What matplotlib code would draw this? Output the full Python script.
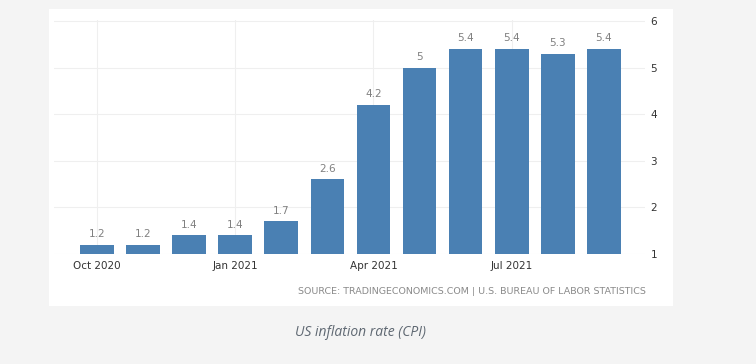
import numpy as np
import matplotlib.pyplot as plt
from matplotlib.patches import Rectangle

# US CPI inflation, Oct 2020 - Sep 2021
months = ['Oct 2020', 'Nov 2020', 'Dec 2020', 'Jan 2021', 'Feb 2021', 'Mar 2021',
          'Apr 2021', 'May 2021', 'Jun 2021', 'Jul 2021', 'Aug 2021', 'Sep 2021']
rates = [1.2, 1.2, 1.4, 1.4, 1.7, 2.6, 4.2, 5.0, 5.4, 5.4, 5.3, 5.4]
tick_months = ['Oct 2020', 'Jan 2021', 'Apr 2021', 'Jul 2021']
y_ticks = [1, 2, 3, 4, 5, 6]

W, H = 756, 364
fig = plt.figure(figsize=(W / 100, H / 100), dpi=100)
fig.patch.set_facecolor('#f4f4f4')

# white card behind the chart
fig.patches.append(Rectangle((49 / W, 1 - 306 / H), (673 - 49) / W, (306 - 9) / H,
                             transform=fig.transFigure, facecolor='white',
                             edgecolor='none', zorder=0))

ymax = 6.02
px_per_unit = (254 - 21) / 5
top_px = 254 - (ymax - 1) * px_per_unit
ax = fig.add_axes([54 / W, 1 - 254 / H, (645 - 54) / W, (254 - top_px) / H])
ax.set_facecolor('none')
ax.set_zorder(2)

x = np.arange(len(months))
bars = ax.bar(x, rates, width=0.73, color='#4a80b3', zorder=3)
for xi, v in zip(x, rates):
    ax.annotate(f'{v:g}', (xi, v), xytext=(0, 4), textcoords='offset points',
                ha='center', va='bottom', fontsize=7.5, color='#808080')

ax.set_xlim(-0.93, 11.89)
ax.set_ylim(1, ymax)
ax.set_xticks([months.index(m) for m in tick_months])
ax.set_xticklabels(tick_months)
ax.set_yticks(y_ticks)
ax.yaxis.tick_right()
ax.tick_params(axis='x', length=0, labelsize=7.5, labelcolor='#333333', pad=5)
ax.tick_params(axis='y', length=0, labelsize=7.5, labelcolor='#333333', pad=4)
ax.grid(True, color='#efefef', linewidth=0.8, zorder=0)
for s in ax.spines.values():
    s.set_visible(False)

fig.text(646 / W, 1 - 292 / H,
         'SOURCE: TRADINGECONOMICS.COM | U.S. BUREAU OF LABOR STATISTICS',
         ha='right', va='center', fontsize=6.8, color='#8a8a8a')
fig.text(295 / W, 1 - 333 / H, 'US inflation rate (CPI)', ha='left', va='center',
         fontsize=10, style='italic', color='#5f6872', family='Open Sans')

fig.savefig('out.png', dpi=100, facecolor=fig.get_facecolor())
